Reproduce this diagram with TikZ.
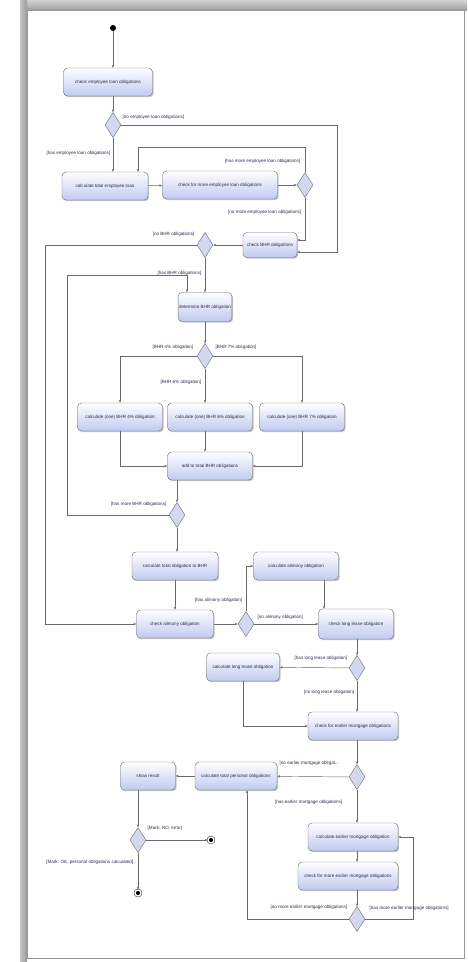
\documentclass[tikz,border=0pt]{standalone}
\usepackage{fontspec}
\setmainfont{Liberation Sans}
\usetikzlibrary{arrows.meta, calc, shapes.geometric, shadows}
\definecolor{boxblue}{RGB}{192,202,238}
\definecolor{diamblue}{RGB}{210,216,240}
\definecolor{linegray}{RGB}{105,105,112}
\definecolor{framegray}{RGB}{150,150,150}
\definecolor{textblue}{RGB}{40,45,80}

\begin{document}
\begin{tikzpicture}[x=1pt, y=-1pt, >={Stealth[length=3pt,width=2.4pt]},
  every node/.style={font=\fontsize{4.55}{5.5}\selectfont, text=textblue},
  action/.style={draw=linegray, rounded corners=4pt, top color=white, bottom color=boxblue,
    minimum height=28pt, inner sep=1pt,
    drop shadow={opacity=0.45, shadow xshift=1.2pt, shadow yshift=-1.2pt}},
  decision/.style={diamond, draw=linegray, fill=diamblue, minimum width=16pt,
    minimum height=25pt, inner sep=0pt},
  initial/.style={circle, fill=black, minimum size=6pt, inner sep=0pt},
  final/.style={circle, fill=black, minimum size=6pt, inner sep=0pt,
    draw=black, double=white, double distance=1.4pt},
  guard/.style={inner sep=0.5pt},
  flow/.style={->, draw=linegray, line width=0.45pt}]

  % Page frame
  \useasboundingbox (0,0) rectangle (467,962);
  \fill[white] (0,0) rectangle (467,962);
  \shade[top color=gray!35, bottom color=gray!75] (20,0) rectangle (467,10);
  \shade[left color=gray!45, right color=gray!80] (20,0) rectangle (27,962);
  \draw[framegray, line width=0.6pt] (27,10) rectangle (464,958);

  % Employee loans
  \node[initial] (start) at (113,28) {};
  \node[action, minimum width=89pt] (chkEmp) at (108,82) {check employee loan obligations};
  \node[decision] (d1) at (113,125) {};
  \node[action, minimum width=86pt] (calcEmp) at (105,186) {calculate total employee loan};
  \node[action, minimum width=115pt] (chkMoreEmp) at (220,185) {check for more employee loan obligations};
  \node[decision] (d2) at (305,185) {};

  % BHR obligations
  \node[action, minimum width=54pt, minimum height=25pt] (chkBHR) at (270,245) {check BHR obligations};
  \node[decision] (d3) at (205,245) {};
  \node[action, minimum width=52pt, minimum height=29pt] (detBHR) at (205,307) {determine BHR obligation};
  \node[decision] (d5) at (205,356) {};
  \node[action, minimum width=85pt] (bhr4) at (120,417) {calculate (one) BHR 4\% obligation};
  \node[action, minimum width=85pt] (bhr6) at (210,417) {calculate (one) BHR 6\% obligation};
  \node[action, minimum width=85pt] (bhr7) at (302,417) {calculate (one) BHR 7\% obligation};
  \node[action, minimum width=85pt] (sumBHR) at (210,466) {add to total BHR obligations};
  \node[decision] (d4) at (177,515) {};
  \node[action, minimum width=86pt] (calcTotBHR) at (175,566) {calculate total obligation to BHR};

  % Alimony and long lease
  \node[action, minimum width=77pt] (chkAlim) at (175,624) {check alimony obligation};
  \node[decision] (d6) at (246,624) {};
  \node[action, minimum width=85pt] (calcAlim) at (296,566) {calculate alimony obligation};
  \node[action, minimum width=75pt, minimum height=30pt] (chkLease) at (356,624) {check long lease obligation};
  \node[decision] (d7) at (357,668) {};
  \node[action, minimum width=73pt] (calcLease) at (243,667) {calculate long lease obligation};

  % Earlier mortgages
  \node[action, minimum width=90pt] (chkEarlier) at (353,726) {check for earlier mortgage obligations};
  \node[decision] (d8) at (357,777) {};
  \node[action, minimum width=82pt] (calcPers) at (236,776) {calculate total personal obligations};
  \node[action, minimum width=55pt] (showRes) at (148,776) {show result};
  \node[action, minimum width=90pt] (calcEarlier) at (353,837) {calculate earlier mortgage obligation};
  \node[action, minimum width=100pt] (chkMoreEarlier) at (348,876) {check for more earlier mortgage obligations};
  \node[decision] (d9) at (357,919) {};

  % Result
  \node[decision] (d10) at (138,840) {};
  \node[final] (end1) at (211,840) {};
  \node[final] (end2) at (138,893) {};

  % Bends of the loops
  \coordinate (rEmp) at (337,125);
  \coordinate (loopEmp) at (138,147);
  \coordinate (lBHR) at (45,247);
  \coordinate (lMore) at (67,275);
  \coordinate (tMore) at (187,275);
  \coordinate (rMort) at (413,919);

  % Flows
  \draw[flow] (start) -- (start |- chkEmp.north);
  \draw[flow] (d1.north |- chkEmp.south) -- (d1.north);
  \draw[flow] (d1.south) -- (d1.south |- calcEmp.north);
  \draw[flow] (d1.east) -- (rEmp) |- ([yshift=-7pt]chkBHR.east);
  \draw[flow] (calcEmp) -- (chkMoreEmp);
  \draw[flow] (chkMoreEmp) -- (d2);
  \draw[flow] (d2.north) |- (loopEmp) -- (loopEmp |- calcEmp.north);
  \draw[flow] (d2.south) |- ([yshift=5pt]chkBHR.east);
  \draw[flow] (chkBHR) -- (d3);
  \draw[flow] (d3.west) -- (d3.west -| lBHR) |- (chkAlim.west);
  \draw[flow] (d3.south) -- (d3.south |- detBHR.north);
  \draw[flow] (detBHR) -- (d5);
  \draw[flow] (d5.west) -| (bhr4.north);
  \draw[flow] (d5.east) -| (bhr7.north);
  \draw[flow] (d5.south) -- (d5.south |- bhr6.north);
  \draw[flow] (bhr4.south) |- (sumBHR.west);
  \draw[flow] (bhr7.south) |- (sumBHR.east);
  \draw[flow] (d5.south |- bhr6.south) -- (d5.south |- sumBHR.north);
  \draw[flow] (d4.north |- sumBHR.south) -- (d4.north);
  \draw[flow] (d4.west) -| (lMore) -- (tMore) -- (tMore |- detBHR.north);
  \draw[flow] (d4.south) -- (d4.south |- calcTotBHR.north);
  \draw[flow] (calcTotBHR) -- (chkAlim);
  \draw[flow] (chkAlim) -- (d6);
  \draw[flow] (d6.north) |- (calcAlim.west);
  \draw[flow] (d6) -- (chkLease);
  \draw[flow] ([xshift=-32pt]chkLease.north |- calcAlim.south) -- ([xshift=-32pt]chkLease.north);
  \draw[flow] (d7.north |- chkLease.south) -- (d7.north);
  \draw[flow] (d7) -- (calcLease);
  \draw[flow] (d7.south) -- (d7.south |- chkEarlier.north);
  \draw[flow] (calcLease.south) |- (chkEarlier.west);
  \draw[flow] (d8.north |- chkEarlier.south) -- (d8.north);
  \draw[flow] (d8) -- (calcPers);
  \draw[flow] (calcPers) -- (showRes);
  \draw[flow] (d8.south) -- (d8.south |- calcEarlier.north);
  \draw[flow] (d8.south |- calcEarlier.south) -- (d8.south |- chkMoreEarlier.north);
  \draw[flow] (d9.north |- chkMoreEarlier.south) -- (d9.north);
  \draw[flow] (d9.west) -| ([xshift=11pt]calcPers.south);
  \draw[flow] (d9.east) -- (rMort) |- (calcEarlier.east);
  \draw[flow] (d10.north |- showRes.south) -- (d10.north);
  \draw[flow] (d10) -- (end1);
  \draw[flow] (d10.south) -- (end2);

  % Guards
  \node[guard, anchor=west] (g1) at (122,117) {[no employee loan obligations]};
  \node[guard, anchor=east] (g2) at (111,153) {[has employee loan obligations]};
  \node[guard, anchor=east] (g3) at (301,161) {[has more employee loan obligations]};
  \node[guard, anchor=east] (g4) at (302,212) {[no more employee loan obligations]};
  \node[guard, anchor=east] (g5) at (195,234) {[no BHR obligations]};
  \node[guard, anchor=east] (g6) at (202,273) {[has BHR obligations]};
  \node[guard, anchor=east] (g7) at (194,347) {[BHR 4\% obligation]};
  \node[guard, anchor=west] (g8) at (215,347) {[BHR 7\% obligation]};
  \node[guard, anchor=east] (g9) at (202,382) {[BHR 6\% obligation]};
  \node[guard, anchor=east] (g10) at (167,504) {[has more BHR obligations]};
  \node[guard, anchor=east] (g11) at (243,600) {[has alimony obligation]};
  \node[guard, anchor=west] (g12) at (257,617) {[no alimony obligation]};
  \node[guard, anchor=east] (g13) at (348,658) {[has long lease obligation]};
  \node[guard, anchor=east] (g14) at (355,692) {[no long lease obligation]};
  \node[guard, anchor=west] (g15) at (279,763) {[no earlier mortgage obligat...};
  \node[guard, anchor=east] (g16) at (343,802) {[has earlier mortgage obligations]};
  \node[guard, anchor=east] (g17) at (348,907) {[no more earlier mortgage obligations]};
  \node[guard, anchor=west] (g18) at (369,908) {[has more earlier mortgage obligations]};
  \node[guard, anchor=west] (g19) at (147,828) {[Mark: NO, error]};
  \node[guard, anchor=east] (g20) at (134,862) {[Mark: OK, personal obligations calculated]};
\end{tikzpicture}
\end{document}
